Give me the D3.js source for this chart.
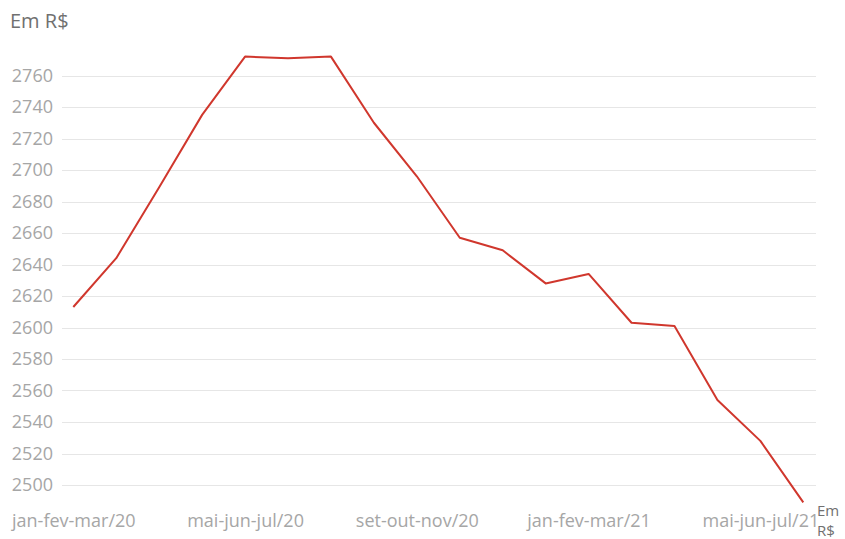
<!doctype html>
<html lang="pt">
    <head>
        <meta charset="utf-8">
        <title>Em R$</title>
        <style>
            body { margin: 0; background: #fff; }
            svg text { font-family: "Open Sans", sans-serif; }
        </style>
    </head>
    <body>
        <svg></svg>
        <script src="https://d3js.org/d3.v7.min.js"></script>
        <script>
            //Container size
            var svgWidth = 845;
            var svgHeight = 539;

            //Rolling quarters (trimestres móveis)
            var categories = [
                "jan-fev-mar/20", "fev-mar-abr/20", "mar-abr-mai/20", "abr-mai-jun/20",
                "mai-jun-jul/20", "jun-jul-ago/20", "jul-ago-set/20", "ago-set-out/20",
                "set-out-nov/20", "out-nov-dez/20", "nov-dez-jan/21", "dez-jan-fev/21",
                "jan-fev-mar/21", "fev-mar-abr/21", "mar-abr-mai/21", "abr-mai-jun/21",
                "mai-jun-jul/21", "jun-jul-ago/21"
            ];
            //Average income, in R$
            var values = [2613, 2644, 2689, 2735, 2772, 2771, 2772, 2730, 2696, 2657,
                          2649, 2628, 2634, 2603, 2601, 2554, 2528, 2489];
            //Labels shown on the x axis
            var xTickLabels = ["jan-fev-mar/20", "mai-jun-jul/20", "set-out-nov/20", "jan-fev-mar/21", "mai-jun-jul/21"];
            //Y axis ticks
            var yTicks = [2500, 2520, 2540, 2560, 2580, 2600, 2620, 2640, 2660, 2680, 2700, 2720, 2740, 2760];

            var svg = d3.select("svg")
                .attr("width", svgWidth)
                .attr("height", svgHeight);

            var x = d3.scalePoint()
                .domain(categories)
                .range([73.3, 803.3]);

            var y = d3.scaleLinear()
                .domain([2500, 2760])
                .range([485, 75.5]);

            //Gridlines
            svg.append("g")
                .selectAll("line")
                .data(yTicks)
                .enter()
                .append("line")
                .attr("x1", 62)
                .attr("x2", 816)
                .attr("y1", function(d) { return Math.round(y(d)) + 0.5; })
                .attr("y2", function(d) { return Math.round(y(d)) + 0.5; })
                .attr("stroke", "#e6e6e6")
                .attr("stroke-width", 1);

            //Y axis labels
            var yAxis = d3.axisLeft(y).tickValues(yTicks).tickFormat(d3.format("d")).tickSize(0).tickPadding(0);
            svg.append("g")
                .attr("transform", "translate(53,0)")
                .call(yAxis)
                .call(function(g) { g.select(".domain").remove(); })
                .selectAll("text")
                .attr("fill", "#a6a6a6")
                .style("font-size", "18px")
                .style("font-family", "'Open Sans', sans-serif");

            //X axis labels
            var xAxis = d3.axisBottom(x).tickValues(xTickLabels).tickSize(0).tickPadding(0);
            svg.append("g")
                .attr("transform", "translate(0,514)")
                .call(xAxis)
                .call(function(g) { g.select(".domain").remove(); })
                .selectAll("text")
                .attr("fill", "#a6a6a6")
                .style("font-size", "18px")
                .style("font-family", "'Open Sans', sans-serif");

            //The line
            var line = d3.line()
                .x(function(d, i) { return x(categories[i]); })
                .y(function(d) { return y(d); });

            svg.append("path")
                .datum(values)
                .attr("d", line)
                .attr("fill", "none")
                .attr("stroke", "#d0372d")
                .attr("stroke-width", 2)
                .attr("stroke-linejoin", "round");

            //Axis titles
            svg.append("text")
                .attr("x", 10)
                .attr("y", 28)
                .attr("fill", "#707070")
                .style("font-size", "20px")
                .text("Em R$");

            var xTitle = svg.append("text")
                .attr("fill", "#707070")
                .style("font-size", "15px");
            xTitle.append("tspan").attr("x", 817).attr("y", 516).text("Em");
            xTitle.append("tspan").attr("x", 817).attr("y", 536).text("R$");
        </script>
    </body>
</html>
